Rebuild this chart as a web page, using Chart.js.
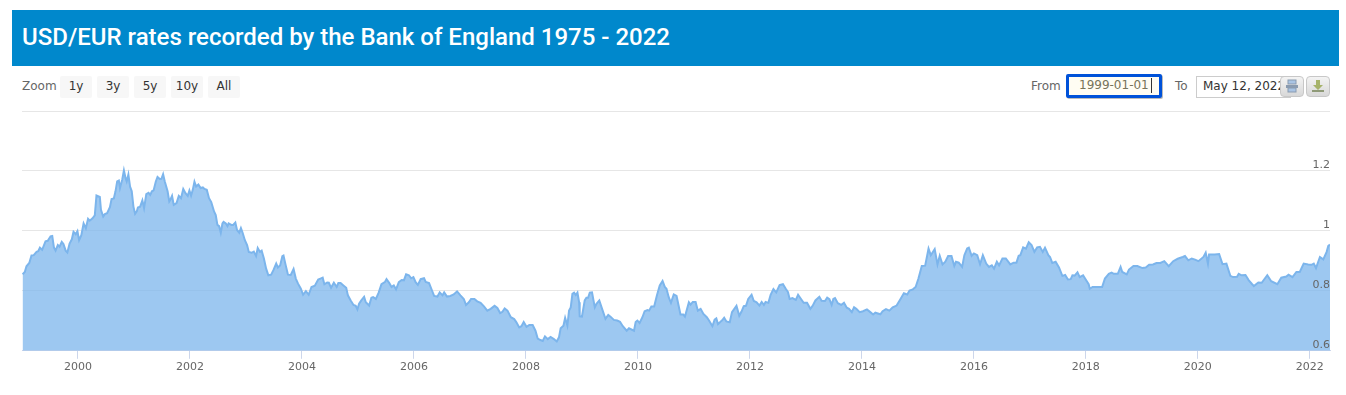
<!DOCTYPE html>
<html>
<head>
<meta charset="utf-8">
<title>USD/EUR rates</title>
<script src="https://cdn.jsdelivr.net/npm/chart.js@4"></script>
<style>
    html, body { margin: 0; padding: 0; background: #fff; overflow: hidden; }
    body { width: 1346px; height: 395px; position: relative; font-family: "DejaVu Sans", sans-serif; color: #666; font-size: 12px; }
    .abs { position: absolute; white-space: nowrap; }
    #header { left: 12px; top: 10px; width: 1327px; height: 56px; background: #0088cc; }
    #header h1 { margin: 0; padding-left: 10px; font: 500 24px/55px Roboto, sans-serif; color: #fff; }
    .range-btn { top: 76px; height: 22px; background: #f7f7f7; border-radius: 2px; color: #333; text-align: center; line-height: 20px; }
    .label { top: 77px; line-height: 18px; color: #666; }
    #from-box { left: 1066px; top: 74px; width: 80px; height: 18px; border: 3px solid #0052d9; border-radius: 2px; box-shadow: 1px 1px 0 #bbb; background: #fffdf3; color: #77745a; line-height: 16px; padding-left: 10px; }
    #caret { left: 1151px; top: 78px; width: 1px; height: 15px; background: #333; }
    #to-box { left: 1196px; top: 76px; width: 87px; height: 20px; border: 1px solid #ccc; background: #fff; color: #333; line-height: 18px; padding-left: 6px; overflow: hidden; }
    .icon-btn { top: 76px; width: 22px; height: 19px; border: 1px solid #c8c8c8; border-radius: 4px; background: linear-gradient(#f4f4f4, #d8d8d8); }
    #chart-wrap { left: 0; top: 100px; width: 1346px; height: 295px; }
</style>
</head>
<body>
<div id="header" class="abs"><h1>USD/EUR rates recorded by the Bank of England 1975 - 2022</h1></div>

<div class="abs label" style="left:22px">Zoom</div>
<div class="abs range-btn" style="left:60px;width:32px">1y</div>
<div class="abs range-btn" style="left:97px;width:32px">3y</div>
<div class="abs range-btn" style="left:134px;width:32px">5y</div>
<div class="abs range-btn" style="left:171px;width:32px">10y</div>
<div class="abs range-btn" style="left:208px;width:32px">All</div>

<div class="abs label" style="left:1031px">From</div>
<div id="from-box" class="abs">1999-01-01</div>
<div id="caret" class="abs"></div>
<div class="abs label" style="left:1175px">To</div>
<div id="to-box" class="abs">May 12, 2022</div>
<div class="abs icon-btn" style="left:1280px">
    <svg width="22" height="19"><rect x="7" y="3" width="8" height="4" fill="#a9c4e4" stroke="#8a9bb0"/><rect x="5" y="8" width="12" height="3" fill="#8a9bb0"/><rect x="7" y="11" width="8" height="4" fill="#a9c4e4" stroke="#8a9bb0"/></svg>
</div>
<div class="abs icon-btn" style="left:1306px">
    <svg width="22" height="19"><path d="M9 3h4v5h3l-5 5-5-5h3z" fill="#a6b36a"/><rect x="5" y="13" width="12" height="2" fill="#8f9a78"/></svg>
</div>

<div id="chart-wrap" class="abs"><canvas id="rateChart" width="1346" height="295"></canvas></div>

<script>
// decimal years
const dates = [
    1999.01,1999.05,1999.08,1999.13,1999.17,1999.21,1999.26,1999.29,1999.32,1999.36,1999.42,1999.46,1999.51,1999.54,1999.57,1999.60,1999.64,1999.67,1999.71,1999.74,1999.78,1999.81,1999.85,1999.89,1999.92,1999.96,1999.99,
    2000.02,2000.06,2000.10,2000.14,2000.18,2000.21,2000.26,2000.30,2000.33,2000.39,2000.41,2000.45,2000.48,2000.52,2000.57,2000.60,2000.64,2000.67,2000.70,2000.73,2000.75,2000.79,2000.82,2000.85,2000.87,2000.90,2000.93,2000.96,2000.99,
    2001.02,2001.05,2001.07,2001.11,2001.15,2001.18,2001.22,2001.26,2001.29,2001.32,2001.35,2001.39,2001.42,2001.46,2001.49,2001.52,2001.55,2001.60,2001.63,2001.65,2001.68,2001.71,2001.76,2001.80,2001.84,2001.88,2001.92,2001.96,2001.99,
    2002.02,2002.05,2002.08,2002.11,2002.15,2002.19,2002.23,2002.26,2002.30,2002.34,2002.38,2002.43,2002.46,2002.49,2002.52,2002.55,2002.58,2002.60,2002.64,2002.67,2002.69,2002.74,2002.77,2002.81,2002.84,2002.88,2002.91,2002.94,2002.98,
    2003.02,2003.05,2003.10,2003.14,2003.18,2003.21,2003.25,2003.28,2003.32,2003.36,2003.40,2003.45,2003.49,2003.54,2003.57,2003.61,2003.65,2003.67,2003.71,2003.75,2003.80,2003.85,2003.89,2003.93,2003.98,
    2004.02,2004.07,2004.12,2004.17,2004.23,2004.29,2004.33,2004.37,2004.40,2004.45,2004.48,2004.52,2004.57,2004.62,2004.65,2004.69,2004.74,2004.79,2004.82,2004.87,2004.92,2004.96,2004.99,
    2005.02,2005.06,2005.11,2005.14,2005.20,2005.24,2005.27,2005.32,2005.37,2005.42,2005.48,2005.51,2005.56,2005.60,2005.64,2005.68,2005.73,2005.78,2005.82,2005.86,2005.91,2005.95,2005.99,
    2006.03,2006.07,2006.12,2006.18,2006.21,2006.27,2006.31,2006.36,2006.42,2006.46,2006.51,2006.54,2006.59,2006.65,2006.71,2006.77,2006.83,2006.89,2006.93,2006.98,
    2007.02,2007.08,2007.13,2007.19,2007.25,2007.31,2007.37,2007.44,2007.49,2007.54,2007.58,2007.62,2007.67,2007.73,2007.79,2007.83,2007.88,2007.92,2007.96,
    2008.01,2008.06,2008.12,2008.17,2008.21,2008.26,2008.30,2008.34,2008.39,2008.44,2008.50,2008.55,2008.59,2008.62,2008.67,2008.70,2008.74,2008.77,2008.80,2008.83,2008.86,2008.89,2008.92,2008.95,2008.96,
    2009.00,2009.05,2009.08,2009.11,2009.14,2009.18,2009.23,2009.26,2009.31,2009.36,2009.42,2009.47,2009.51,2009.57,2009.63,2009.68,2009.73,2009.80,2009.84,2009.93,2009.96,2009.99,
    2010.03,2010.08,2010.12,2010.17,2010.20,2010.24,2010.29,2010.34,2010.39,2010.44,2010.48,2010.51,2010.55,2010.59,2010.64,2010.69,2010.76,2010.81,2010.84,2010.91,2010.94,2010.98,
    2011.03,2011.07,2011.12,2011.17,2011.23,2011.27,2011.33,2011.37,2011.40,2011.43,2011.48,2011.50,2011.54,2011.58,2011.64,2011.68,2011.76,2011.81,2011.85,2011.89,2011.93,2011.97,
    2012.03,2012.07,2012.12,2012.17,2012.21,2012.25,2012.28,2012.33,2012.37,2012.42,2012.47,2012.53,2012.59,2012.64,2012.68,2012.71,2012.76,2012.82,2012.86,2012.90,2012.96,
    2013.02,2013.08,2013.12,2013.17,2013.24,2013.28,2013.34,2013.38,2013.42,2013.46,2013.49,2013.52,2013.57,2013.63,2013.68,2013.73,2013.77,2013.82,2013.86,2013.90,2013.96,
    2014.02,2014.09,2014.15,2014.20,2014.24,2014.33,2014.37,2014.43,2014.49,2014.55,2014.62,2014.69,2014.75,2014.81,2014.85,2014.91,2014.96,
    2015.01,2015.07,2015.13,2015.19,2015.23,2015.30,2015.35,2015.39,2015.44,2015.49,2015.54,2015.60,2015.65,2015.68,2015.73,2015.79,2015.83,2015.88,2015.91,2015.96,
    2016.00,2016.06,2016.11,2016.16,2016.22,2016.27,2016.32,2016.36,2016.41,2016.45,2016.51,2016.57,2016.63,2016.65,2016.71,2016.76,2016.80,2016.83,2016.88,2016.93,2016.98,
    2017.03,2017.08,2017.13,2017.18,2017.23,2017.27,2017.33,2017.36,2017.40,2017.46,2017.52,2017.58,2017.63,2017.68,2017.73,2017.76,2017.80,2017.85,2017.89,2017.95,
    2018.00,2018.05,2018.07,2018.12,2018.19,2018.29,2018.34,2018.41,2018.46,2018.50,2018.57,2018.62,2018.65,2018.73,2018.77,2018.85,2018.92,
    2019.01,2019.07,2019.13,2019.20,2019.26,2019.33,2019.40,2019.48,2019.56,2019.64,2019.73,2019.77,2019.83,2019.89,2019.95,
    2020.01,2020.10,2020.14,2020.18,2020.20,2020.30,2020.38,2020.44,2020.51,2020.58,2020.63,2020.70,2020.73,2020.78,2020.85,2020.91,2020.97,
    2021.00,2021.08,2021.14,2021.24,2021.31,2021.42,2021.49,2021.58,2021.62,2021.69,2021.76,2021.82,2021.89,2021.97,
    2022.03,2022.07,2022.11,2022.18,2022.24,2022.30,2022.33,2022.36
];
const rates = [
    .855,.863,.882,.893,.918,.919,.930,.932,.944,.937,.965,.967,.982,.983,.945,.934,.953,.947,.963,.956,.934,.928,.958,.972,.997,.989,.999,
    .969,.986,1.025,1.009,1.040,1.034,1.042,1.052,1.118,1.113,1.070,1.048,1.056,1.059,1.079,1.106,1.108,1.132,1.165,1.168,1.143,1.171,1.202,1.176,1.165,1.188,1.148,1.132,1.081,
    1.057,1.065,1.078,1.081,1.102,1.076,1.123,1.127,1.120,1.132,1.135,1.165,1.180,1.173,1.174,1.189,1.165,1.132,1.098,1.104,1.117,1.087,1.093,1.117,1.109,1.140,1.126,1.117,1.135,
    1.118,1.137,1.164,1.148,1.155,1.143,1.145,1.140,1.137,1.109,1.096,1.065,1.053,1.020,1.016,.994,1.025,1.030,1.025,1.016,1.025,1.020,1.020,1.028,1.003,.994,1.009,.994,.969,
    .953,.930,.927,.931,.916,.943,.930,.934,.908,.874,.852,.854,.869,.891,.878,.885,.916,.918,.885,.854,.853,.873,.841,.824,.807,
    .787,.799,.787,.813,.817,.838,.841,.844,.822,.828,.827,.810,.827,.813,.826,.826,.818,.810,.785,.768,.753,.750,.738,
    .757,.768,.780,.762,.751,.777,.779,.773,.794,.822,.829,.839,.826,.813,.818,.805,.829,.836,.835,.855,.852,.842,.846,
    .829,.820,.839,.842,.830,.826,.807,.783,.781,.795,.785,.795,.781,.783,.788,.798,.785,.773,.753,.762,
    .773,.773,.765,.760,.748,.734,.740,.750,.743,.726,.730,.741,.734,.712,.706,.695,.678,.682,.696,
    .680,.686,.686,.667,.641,.636,.633,.648,.639,.646,.639,.631,.645,.675,.684,.710,.684,.734,.745,.790,.794,.786,.794,.762,.715,
    .714,.768,.777,.777,.794,.795,.745,.757,.768,.740,.707,.720,.714,.703,.701,.697,.682,.667,.675,.667,.696,.701,
    .693,.712,.732,.736,.734,.748,.748,.785,.818,.833,.813,.807,.779,.760,.788,.783,.721,.721,.714,.762,.754,.763,
    .763,.734,.740,.723,.712,.701,.682,.704,.708,.689,.698,.701,.710,.698,.695,.729,.750,.717,.731,.749,.750,.773,
    .787,.766,.762,.751,.763,.753,.763,.760,.787,.806,.795,.819,.822,.807,.796,.773,.776,.770,.787,.776,.760,
    .760,.740,.750,.768,.780,.767,.766,.777,.772,.753,.773,.776,.759,.753,.760,.744,.740,.729,.745,.740,.729,
    .732,.738,.729,.721,.727,.722,.732,.739,.734,.745,.751,.773,.792,.788,.801,.805,.813,
    .841,.883,.884,.941,.919,.939,.888,.917,.888,.897,.916,.916,.883,.897,.894,.880,.919,.941,.944,.917,
    .925,.919,.889,.919,.891,.880,.885,.874,.897,.885,.908,.908,.893,.888,.894,.894,.917,.919,.945,.941,.962,
    .953,.930,.945,.947,.930,.944,.919,.913,.893,.897,.878,.850,.853,.838,.839,.852,.851,.862,.846,.852,
    .837,.822,.807,.813,.813,.813,.841,.857,.861,.857,.857,.880,.863,.855,.871,.883,.883,
    .876,.878,.887,.888,.893,.893,.899,.882,.899,.907,.913,.916,.902,.908,.904,
    .899,.913,.927,.891,.921,.921,.923,.889,.891,.850,.846,.847,.857,.852,.853,.835,.822,
    .816,.828,.827,.852,.832,.822,.844,.848,.854,.846,.863,.863,.891,.888,
    .887,.891,.876,.913,.905,.930,.950,.954
];
const yearTicks = [2000, 2002, 2004, 2006, 2008, 2010, 2012, 2014, 2016, 2018, 2020, 2022];
const rateTicks = [0.6, 0.8, 1, 1.2, 1.4];

const points = dates.map((d, i) => ({ x: d, y: rates[i] }));

document.addEventListener("DOMContentLoaded", () => {
    const ctx = document.getElementById('rateChart').getContext('2d');
    new Chart(ctx, {
        type: 'line',
        data: {
            datasets: [{
                data: points,
                borderColor: '#7cb5ec',
                borderWidth: 2,
                backgroundColor: 'rgba(124, 181, 236, 0.75)',
                fill: 'origin',
                pointRadius: 0,
                tension: 0
            }]
        },
        options: {
            responsive: false,
            animation: false,
            layout: { padding: { left: 22, right: 16, top: 11, bottom: 19 } },
            plugins: { legend: { display: false }, tooltip: { enabled: false } },
            scales: {
                x: {
                    type: 'linear',
                    min: 1999,
                    max: 2022.36,
                    afterBuildTicks: axis => { axis.ticks = yearTicks.map(v => ({ value: v })); },
                    grid: { drawOnChartArea: false, color: '#ccd6eb', tickLength: 8 },
                    border: { color: '#ccd6eb' },
                    ticks: {
                        maxRotation: 0,
                        autoSkip: false,
                        padding: 2,
                        color: '#666',
                        font: { family: '"DejaVu Sans"', size: 11 },
                        callback: v => String(v)
                    }
                },
                y: {
                    position: 'right',
                    min: 0.6,
                    max: 1.4,
                    afterBuildTicks: axis => { axis.ticks = rateTicks.map(v => ({ value: v })); },
                    grid: { color: '#e6e6e6', drawTicks: false },
                    border: { display: false },
                    ticks: {
                        mirror: true,
                        padding: 0,
                        labelOffset: -6,
                        z: 1,
                        color: '#666',
                        font: { family: '"DejaVu Sans"', size: 11 },
                        callback: v => (v > 1.3 ? '' : String(v))
                    }
                }
            }
        }
    });
});
</script>
</body>
</html>
